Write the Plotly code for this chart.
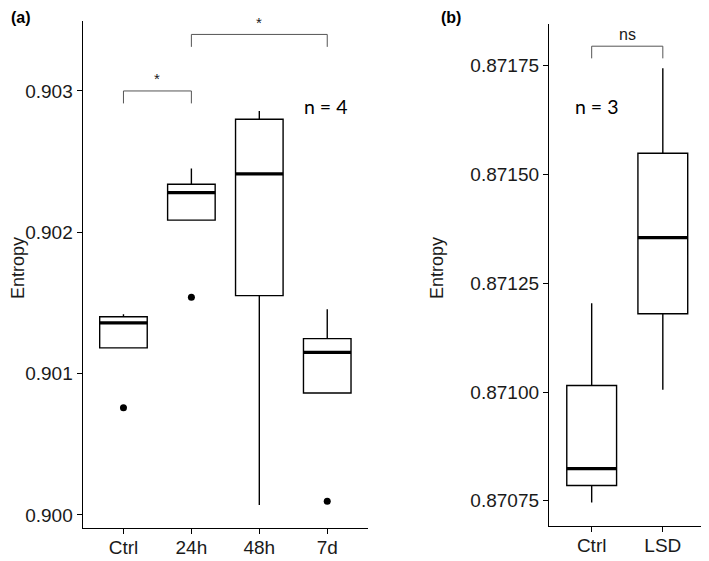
import plotly.graph_objects as go

# ---------------- data ----------------
cats_a = ["Ctrl", "24h", "48h", "7d"]
a_lower = [0.901182, 0.902086, 0.900071, 0.900863]
a_q1 = [0.901182, 0.902086, 0.901552, 0.900863]
a_median = [0.901359, 0.902281, 0.902413, 0.901151]
a_q3 = [0.901403, 0.902340, 0.902800, 0.901248]
a_upper = [0.901420, 0.902451, 0.902859, 0.901456]
a_outlier_cat = ["Ctrl", "24h", "7d"]
a_outlier_val = [0.900759, 0.901541, 0.900097]
a_ticks = [0.900, 0.901, 0.902, 0.903]
a_ticklabels = ["0.900", "0.901", "0.902", "0.903"]

cats_b = ["Ctrl", "LSD"]
b_lower = [0.870746, 0.871005]
b_q1 = [0.870785, 0.871180]
b_median = [0.870824, 0.871355]
b_q3 = [0.871015, 0.871549]
b_upper = [0.871204, 0.871744]
b_ticks = [0.87075, 0.87100, 0.87125, 0.87150, 0.87175]
b_ticklabels = ["0.87075", "0.87100", "0.87125", "0.87150", "0.87175"]

# significance brackets: (left cat, right cat, label)
brackets_a = [("Ctrl", "24h", "*"), ("24h", "7d", "*")]
brackets_b = [("Ctrl", "LSD", "ns")]

# ---------------- layout helpers ----------------
OFF = 8  # page body margin
W, H = 709 - OFF, 561 - OFF


def px(x):
    return (x - OFF) / W


def py(y):
    return 1 - (y - OFF) / H


BOXW = 0.7
FONT = "Liberation Sans, Arial, sans-serif"
TXT = "#1a1a1a"

fig = go.Figure()


def add_panel(fig, cats, lo, q1, med, q3, up, xa, ya):
    xs = list(range(len(cats)))
    fig.add_trace(go.Box(
        x=xs, lowerfence=lo, q1=q1, median=med, q3=q3, upperfence=up,
        width=BOXW, whiskerwidth=0, fillcolor="white",
        line=dict(color="black", width=1.4), boxpoints=False,
        xaxis=xa, yaxis=ya, showlegend=False, hoverinfo="skip"))
    for i, m in enumerate(med):
        fig.add_trace(go.Scatter(
            x=[i - BOXW / 2, i + BOXW / 2], y=[m, m], mode="lines",
            line=dict(color="black", width=3.2), xaxis=xa, yaxis=ya,
            showlegend=False, hoverinfo="skip"))


add_panel(fig, cats_a, a_lower, a_q1, a_median, a_q3, a_upper, "x", "y")
add_panel(fig, cats_b, b_lower, b_q1, b_median, b_q3, b_upper, "x2", "y2")

fig.add_trace(go.Scatter(
    x=[cats_a.index(c) for c in a_outlier_cat], y=a_outlier_val, mode="markers",
    marker=dict(color="black", size=7), xaxis="x", yaxis="y",
    showlegend=False, hoverinfo="skip"))


def add_brackets(fig, cats, brackets, levels, drop, xa, ya, textoff, tsize):
    for (c1, c2, lab), lev in zip(brackets, levels):
        i1, i2 = cats.index(c1), cats.index(c2)
        fig.add_trace(go.Scatter(
            x=[i1, i1, i2, i2], y=[lev - drop, lev, lev, lev - drop],
            mode="lines", line=dict(color="#555555", width=1),
            xaxis=xa, yaxis=ya, showlegend=False, hoverinfo="skip"))
        fig.add_annotation(x=(i1 + i2) / 2, y=lev, xref=xa, yref=ya,
                           text=lab, showarrow=False, yshift=textoff,
                           xanchor="center", yanchor="middle",
                           font=dict(family=FONT, size=tsize, color=TXT))


add_brackets(fig, cats_a, brackets_a, [0.9030, 0.9034], 0.000088, "x", "y", 12, 15)
add_brackets(fig, cats_b, brackets_b, [0.871795], 0.000028, "x2", "y2", 12, 16)

axis_common = dict(showline=True, linecolor="black", linewidth=1.3,
                   ticks="outside", ticklen=5, tickcolor="black", tickwidth=1.2,
                   showgrid=False, zeroline=False,
                   tickfont=dict(family=FONT, size=19, color=TXT))

fig.update_layout(
    width=W, height=H,
    margin=dict(l=0, r=0, t=0, b=0),
    paper_bgcolor="white", plot_bgcolor="white",
    xaxis=dict(domain=[px(82.7), px(368)], range=[-0.6, 3.6], ticklabelstandoff=-3,
               tickvals=list(range(len(cats_a))), ticktext=cats_a, **axis_common),
    yaxis=dict(domain=[py(527.7), py(21)], range=[0.89991, 0.903495],
               tickvals=a_ticks, ticktext=a_ticklabels, **axis_common),
    xaxis2=dict(domain=[px(549), px(705.5)], range=[-0.6, 1.6], anchor="y2",
                ticklabelstandoff=-3,
                tickvals=list(range(len(cats_b))), ticktext=cats_b, **axis_common),
    yaxis2=dict(domain=[py(526), py(24)], range=[0.870692, 0.871846], anchor="x2",
                tickvals=b_ticks, ticktext=b_ticklabels, **axis_common),
)


def label(x, y, text, size, family=FONT, color=TXT, angle=0):
    fig.add_annotation(x=px(x), y=py(y), xref="paper", yref="paper", text=text,
                       showarrow=False, xanchor="center", yanchor="middle",
                       textangle=angle, font=dict(family=family, size=size, color=color))


label(18, 268, "Entropy", 18, angle=-90)
label(437, 268, "Entropy", 18, angle=-90)
label(21, 17, "<b>(a)</b>", 16, color="black")
label(451, 17, "<b>(b)</b>", 16, color="black")
label(326, 107, "n = 4", 19.5, family="Lato, Open Sans, sans-serif", color="black")
label(597, 107, "n = 3", 19.5, family="Lato, Open Sans, sans-serif", color="black")

fig.write_html("out.html")
